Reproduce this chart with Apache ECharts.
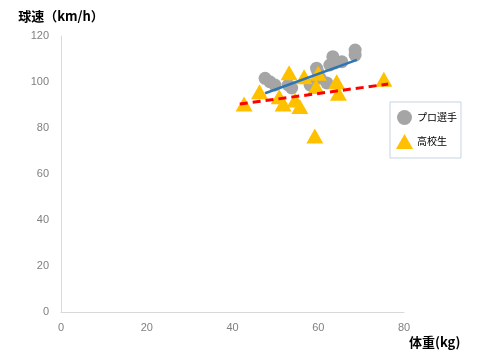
<!DOCTYPE html>
<html><head><meta charset="utf-8">
<script src="https://cdn.jsdelivr.net/npm/echarts@6/dist/echarts.min.js"></script>
<style>html,body{margin:0;padding:0;background:#fff}#c{width:478px;height:350px}</style>
</head><body><div id="c"></div>
<script>
// プロ選手: [体重, 球速]
const proX = [47.6, 48.7, 49.9, 53.0, 53.8, 58.1, 59.6, 59.9, 60.4, 62.0, 62.7, 63.4, 63.9, 65.5, 68.6, 68.6];
const proY = [101.6, 100.1, 98.7, 98.7, 97.4, 98.7, 106.0, 104.5, 101.7, 99.6, 107.4, 111.0, 108.3, 108.8, 113.9, 111.7];
// 高校生
const hsX = [42.7, 46.3, 50.9, 51.8, 53.2, 54.6, 55.7, 56.7, 59.2, 59.5, 60.0, 64.3, 64.7, 75.3];
const hsY = [90.4, 95.8, 93.6, 90.4, 104.0, 92.2, 89.3, 102.3, 76.5, 98.0, 103.8, 100.1, 95.1, 101.2];
// trend line end points
const proTrendX = [47.6, 69.0];
const proTrendY = [95.1, 109.6];
const hsTrendX = [41.7, 76.3];
const hsTrendY = [90.4, 99.1];
const xTicks = [0, 20, 40, 60, 80];
const yTicks = [0, 20, 40, 60, 80, 100, 120];

const zip = (a, b) => a.map((v, i) => [v, b[i]]);
const chart = echarts.init(document.getElementById('c'));
const font = '"Noto Sans CJK JP", "Noto Sans", sans-serif';
chart.setOption({
  animation: false,
  textStyle: { fontFamily: font },
  grid: { left: 61, right: 74, top: 36, bottom: 38 },
  xAxis: {
    type: 'value', min: xTicks[0], max: xTicks[xTicks.length - 1], interval: 20,
    name: '体重(kg)', nameLocation: 'end', nameGap: 5,
    nameTextStyle: { color: '#000', fontSize: 13, fontWeight: 'bold', verticalAlign: 'top', padding: [24, 0, 0, 0], fontFamily: font },
    axisLine: { show: true, lineStyle: { color: '#d9d9d9' } },
    axisTick: { show: false },
    splitLine: { show: false },
    axisLabel: { color: '#808080', fontSize: 11, margin: 10, fontFamily: 'Liberation Sans' }
  },
  yAxis: {
    type: 'value', min: yTicks[0], max: yTicks[yTicks.length - 1], interval: 20,
    name: '球速（km/h）', nameLocation: 'end', nameGap: 13,
    nameTextStyle: { color: '#000', fontSize: 13, fontWeight: 'bold', align: 'center', fontFamily: font },
    axisLine: { show: true, lineStyle: { color: '#d9d9d9' } },
    axisTick: { show: false },
    splitLine: { show: false },
    axisLabel: { color: '#808080', fontSize: 11, margin: 12, fontFamily: 'Liberation Sans' }
  },
  legend: {
    orient: 'vertical', left: 390, top: 102,
    borderColor: '#c5d3e3', borderWidth: 1, padding: [8, 4, 9, 6],
    itemGap: 9, itemWidth: 17, itemHeight: 15,
    textStyle: { fontSize: 10, color: '#000', fontFamily: font, padding: [0, 0, 0, -1] },
    data: [{ name: 'プロ選手', icon: 'circle' }, { name: '高校生', icon: 'triangle' }]
  },
  series: [
    { name: 'プロ選手', type: 'scatter', symbol: 'circle', symbolSize: 13,
      itemStyle: { color: '#a5a5a5', opacity: 1 }, data: zip(proX, proY), z: 2 },
    { name: '高校生', type: 'scatter', symbol: 'triangle', symbolSize: [17, 15],
      itemStyle: { color: '#ffc000', opacity: 1 }, data: zip(hsX, hsY), z: 3 },
    { name: 'proTrend', type: 'line', showSymbol: false, symbol: 'none', data: zip(proTrendX, proTrendY),
      lineStyle: { color: '#2e75b6', width: 2.5 }, z: 4 },
    { name: 'hsTrend', type: 'line', showSymbol: false, symbol: 'none', data: zip(hsTrendX, hsTrendY),
      lineStyle: { color: '#ff0000', width: 3, type: [8, 5] }, z: 5 }
  ]
});
</script></body></html>
